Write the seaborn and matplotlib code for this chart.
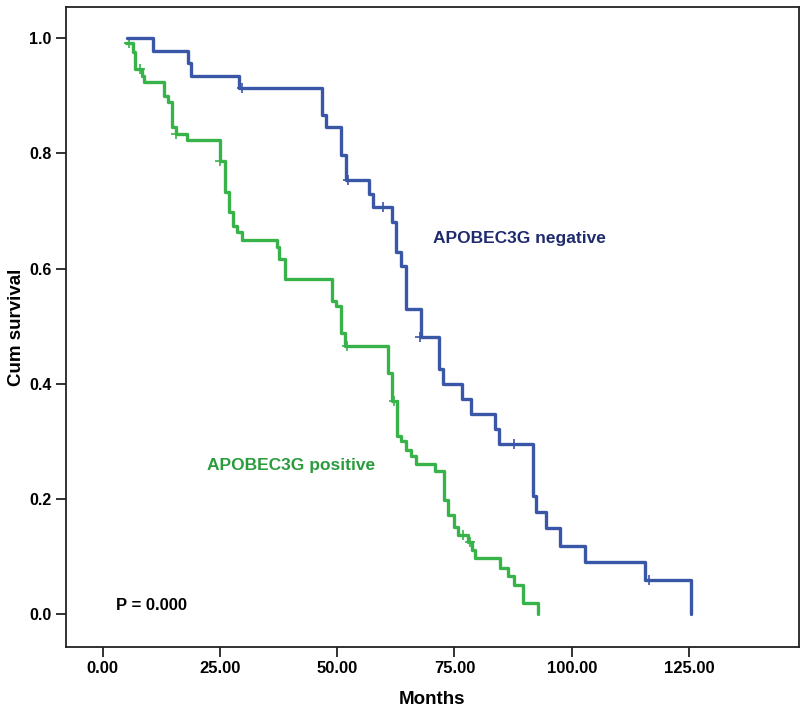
import pandas as pd
import matplotlib
matplotlib.use('Agg')
import matplotlib.pyplot as plt
import seaborn as sns

# Kaplan-Meier steps
neg_months = [5.1, 10.8, 18.2, 18.9, 29.0, 46.8, 47.7, 50.8, 51.8, 56.8, 57.6, 61.7, 62.5, 63.5,
              64.6, 67.8, 71.8, 72.5, 76.7, 78.6, 83.7, 84.5, 91.7, 92.4, 94.5, 97.5, 102.8, 115.7, 125.4]
neg_surv = [1.0, 0.978, 0.957, 0.934, 0.913, 0.866, 0.846, 0.798, 0.754, 0.730, 0.707, 0.681, 0.629, 0.605,
            0.530, 0.481, 0.426, 0.400, 0.373, 0.347, 0.322, 0.295, 0.206, 0.178, 0.149, 0.119, 0.090, 0.060, 0.0]
neg_cens_months = [29.7, 52.2, 59.8, 67.6, 87.7, 116.5]
neg_cens_surv = [0.913, 0.754, 0.707, 0.481, 0.295, 0.060]

pos_months = [5.0, 6.4, 7.0, 8.4, 8.9, 13.0, 13.9, 14.8, 15.6, 17.9, 25.0, 26.0, 26.9, 27.7, 28.6, 29.8,
              37.1, 37.7, 38.8, 49.0, 49.7, 50.8, 51.7, 60.8, 61.7, 62.7, 63.6, 64.6, 65.7, 66.7, 70.8,
              72.7, 73.7, 74.8, 75.8, 77.8, 78.8, 79.4, 84.7, 86.4, 87.7, 89.6, 92.8]
pos_surv = [0.991, 0.977, 0.946, 0.934, 0.924, 0.899, 0.889, 0.846, 0.834, 0.823, 0.787, 0.733, 0.698, 0.674,
            0.664, 0.650, 0.638, 0.617, 0.582, 0.544, 0.536, 0.489, 0.466, 0.418, 0.370, 0.310, 0.300, 0.286,
            0.274, 0.260, 0.248, 0.198, 0.173, 0.151, 0.137, 0.126, 0.111, 0.097, 0.081, 0.066, 0.050, 0.019, 0.0]
pos_cens_months = [5.6, 8.0, 15.6, 25.0, 52.0, 62.2, 76.9, 78.4]
pos_cens_surv = [0.991, 0.946, 0.834, 0.787, 0.466, 0.370, 0.137, 0.126]

y_ticks = [0.0, 0.2, 0.4, 0.6, 0.8, 1.0]
x_ticks = [0, 25, 50, 75, 100, 125]

blue = '#3a56a6'
green = '#37b34a'

sns.set_style('white')
plt.rcParams['font.family'] = ['Liberation Sans', 'DejaVu Sans']
plt.rcParams['text.color'] = 'black'
plt.rcParams['axes.labelcolor'] = 'black'
plt.rcParams['xtick.color'] = 'black'
plt.rcParams['ytick.color'] = 'black'

fig = plt.figure(figsize=(8, 7.15), dpi=100)
ax = fig.add_axes([0.082, 0.095, 0.917, 0.895])

sns.lineplot(x=neg_months, y=neg_surv, drawstyle='steps-post', estimator=None, sort=False,
             color=blue, linewidth=2.4, ax=ax)
sns.lineplot(x=pos_months, y=pos_surv, drawstyle='steps-post', estimator=None, sort=False,
             color=green, linewidth=2.4, ax=ax)
sns.scatterplot(x=neg_cens_months, y=neg_cens_surv, marker='+', s=45, color=blue, linewidth=1.2, ax=ax)
sns.scatterplot(x=pos_cens_months, y=pos_cens_surv, marker='+', s=45, color=green, linewidth=1.2, ax=ax)

ax.set_xlim(-7.9, 148.5)
ax.set_ylim(-0.057, 1.054)
ax.set_xticks(x_ticks)
ax.set_xticklabels([f'{v:.2f}' for v in x_ticks], fontweight='bold', fontsize=12)
ax.set_yticks(y_ticks)
ax.set_yticklabels([f'{v:.1f}' for v in y_ticks], fontweight='bold', fontsize=11.5)
ax.tick_params(direction='out', length=7, width=1.3, color='#222222', bottom=True, left=True, pad=3)

for side in ['top', 'right', 'bottom', 'left']:
    ax.spines[side].set_visible(True)
    ax.spines[side].set_color('#222222')
    ax.spines[side].set_linewidth(1.3)

ax.set_xlabel('Months', fontweight='bold', fontsize=13.5, labelpad=11)
ax.set_ylabel('Cum survival', fontweight='bold', fontsize=13.5, labelpad=3)

ax.text(70.4, 0.653, 'APOBEC3G negative', color='#1f2b6e', fontweight='bold', fontsize=12.5, va='center')
ax.text(22.3, 0.259, 'APOBEC3G positive', color='#2a9c3e', fontweight='bold', fontsize=12.5, va='center')
ax.text(2.8, 0.016, 'P = 0.000', color='black', fontweight='bold', fontsize=12, va='center')

fig.savefig('out.png', dpi=100)
